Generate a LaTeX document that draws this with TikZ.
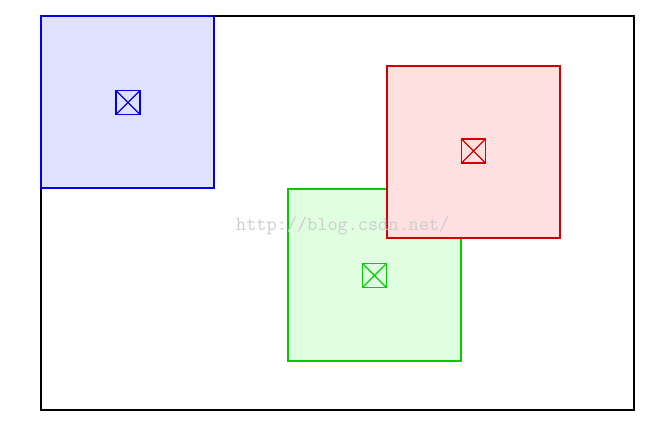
\documentclass[tikz,border=0pt]{standalone}
\definecolor{bstroke}{RGB}{0,0,230}
\definecolor{bfill}{RGB}{224,224,255}
\definecolor{gstroke}{RGB}{0,204,0}
\definecolor{gfill}{RGB}{224,255,224}
\definecolor{rstroke}{RGB}{210,0,0}
\definecolor{rfill}{RGB}{255,224,224}
\definecolor{wm}{RGB}{205,205,205}
\tikzset{
  sq/.style={line width=1.25pt},
  mark box/.style={draw, line width=1.2pt, minimum width=24pt, minimum height=24pt, inner sep=0pt,
    path picture={\draw[line width=1.2pt] (path picture bounding box.north west) -- (path picture bounding box.south east)
      (path picture bounding box.north east) -- (path picture bounding box.south west);}},
}
\begin{document}
\begin{tikzpicture}[x=1pt,y=-1pt]
\useasboundingbox (0,0) rectangle (664,426);
\draw[line width=1.25pt] (41,16) rectangle (634,410);
\draw[sq, draw=bstroke, fill=bfill] (41,16) rectangle (214,188);
\draw[sq, draw=gstroke, fill=gfill] (288,189) rectangle (461,361);
\draw[sq, draw=rstroke, fill=rfill] (387,66) rectangle (560,238);
\node[mark box, draw=bstroke, color=bstroke] (mb) at (128,102.5) {};
\node[mark box, draw=gstroke, color=gstroke] (mg) at (374.5,275.5) {};
\node[mark box, draw=rstroke, color=rstroke] (mr) at (473.5,151) {};
\node[text=wm, font=\ttfamily\fontsize{19.7}{19.7}\selectfont, inner sep=0pt, anchor=base west] (wmk) at (236,230) {http://blog.csdn.net/};
\end{tikzpicture}
\end{document}
